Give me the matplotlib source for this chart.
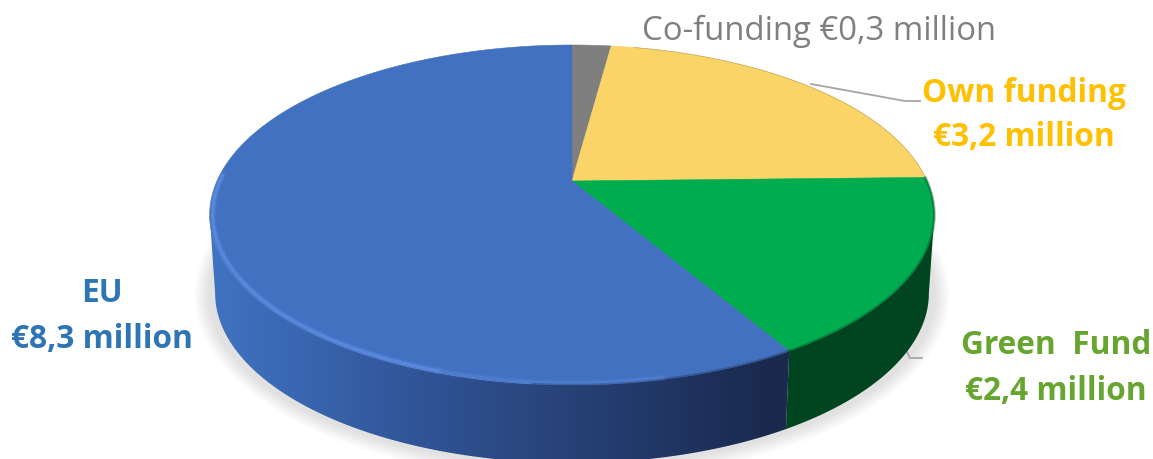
import numpy as np
import matplotlib
matplotlib.use("Agg")
import matplotlib.pyplot as plt
from matplotlib.patches import Polygon

# funding sources, clockwise from 12 o'clock
sources = ["Co-funding", "Own funding", "Green Fund", "EU"]
values = [0.3, 3.2, 2.4, 8.3]
top_colors = ["#7f7f7f", "#fad466", "#00ac4e", "#4271c1"]

W, H = 1153, 459
CX, CY = 572, 215      # centre of the top ellipse on screen
A, B, K = 355, 170, 0.2  # perspective of the tilted disc
DEPTH = 78


def project(angle, r=1.0, drop=0.0, shrink=1.0):
    # angle in radians clockwise from the top of the disc
    x = r * np.sin(angle)
    y = r * np.cos(angle)
    w = 1 + K * y
    sx = CX + shrink * A * x / w
    sy = CY - (B * y + B * K) / w + drop
    return np.array(sx), np.array(sy)


def mix(c1, c2, f):
    return tuple((1 - f) * a + f * b for a, b in zip(c1, c2))


def blue_wall(x):
    c0 = (0.25, 0.45, 0.76)
    c1 = (0.19, 0.33, 0.59)
    c2 = (0.105, 0.165, 0.31)
    if x < 420:
        return mix(c0, c1, max(0, (x - 215) / 205))
    return mix(c1, c2, min(1, (x - 420) / 340))


def wall_outline(a0, a1):
    t = np.linspace(a0, a1, 300)
    x0, y0 = project(t)
    x1, y1 = project(t[::-1], drop=DEPTH, shrink=0.985)
    return np.column_stack([np.r_[x0, x1], np.r_[y0, y1]])


fig = plt.figure(figsize=(W / 100, H / 100), dpi=100)
ax = fig.add_axes([0, 0, 1, 1])
ax.axis("off")

edges = np.cumsum([0] + values) / sum(values) * 2 * np.pi
around = np.linspace(0, 2 * np.pi, 361)
side = np.arccos(-K)   # angle of the widest point of the ellipse

# soft shadow below the disc
for i in range(10):
    grow = 15 - i * 1.5
    sx, sy = project(around, drop=DEPTH + 2, shrink=1 + grow / 355)
    sy = sy + (sy - (CY + DEPTH)) * grow / 170
    ax.add_patch(Polygon(np.column_stack([sx, sy]), closed=True,
                         fc="black", ec="none", alpha=0.012, zorder=1))

# side wall, green is flat and blue runs dark to the right
ax.add_patch(Polygon(wall_outline(side, edges[3]), closed=True,
                     fc="#00451f", ec="none", zorder=2))
blue_shape = Polygon(wall_outline(edges[3], 2 * np.pi - side), closed=True,
                     fc="none", ec="none", zorder=2, transform=ax.transData)
ax.add_patch(blue_shape)
gradient = np.array([[blue_wall(x) for x in range(W)]])
img = ax.imshow(gradient, extent=(0, W, H, 0), aspect="auto", zorder=2,
                interpolation="bilinear")
img.set_clip_path(blue_shape)

ax.set_xlim(0, W)
ax.set_ylim(H, 0)

# top face
apex = (CX, CY - B * K)
for start, end, col in zip(edges[:-1], edges[1:], top_colors):
    t = np.linspace(start, end, 200)
    sx, sy = project(t)
    pts = np.vstack([[apex], np.column_stack([sx, sy])])
    ax.add_patch(Polygon(pts, closed=True, fc=col, ec=col, lw=0.4, zorder=3))

# dark rim on the right, light bevel on the blue slice
t = np.linspace(edges[2], edges[3], 200)
sx, sy = project(t)
ax.plot(sx, sy, color="#00331a", lw=2.0, alpha=0.35, zorder=4)
t = np.linspace(edges[3], np.deg2rad(185), 100)
sx, sy = project(t)
ax.plot(sx, sy, color="#1c2d55", lw=2.0, alpha=0.4, zorder=4)
for lw, alpha in [(5, 0.12), (3.5, 0.2), (2, 0.4)]:
    t = np.linspace(np.deg2rad(198), np.deg2rad(272), 200)
    sx, sy = project(t, r=0.992)
    ax.plot(sx, sy, color="#6a9af0", lw=lw, alpha=alpha, zorder=4,
            solid_capstyle="round")
    t = np.linspace(np.deg2rad(168), np.deg2rad(198), 100)
    sx, sy = project(t, r=0.992)
    ax.plot(sx, sy, color="#6a9af0", lw=lw, alpha=alpha * 0.5, zorder=4)
t = np.linspace(np.deg2rad(12), np.deg2rad(88), 100)
sx, sy = project(t)
ax.plot(sx, sy, color="#8a7a45", lw=0.5, alpha=0.5, zorder=4)

# leader lines
ax.plot([811, 905, 920], [84, 101, 101], color="#a6a6a6", lw=1.3, zorder=5)
ax.plot([906, 910, 922], [350, 358, 358], color="#a6a6a6", lw=1.3, zorder=1.5)

# labels
font = "Open Sans"
size = 22.8
ax.text(819, 31, "Co-funding €0,3 million", color="#7f7f7f", fontsize=23.7,
        family=font, ha="center", va="center", zorder=6)
ax.text(1024, 93, "Own funding", color="#ffc000", fontsize=size, family=font,
        weight="bold", ha="center", va="center", zorder=6)
ax.text(1024, 138, "€3,2 million", color="#ffc000", fontsize=size, family=font,
        weight="bold", ha="center", va="center", zorder=6)
ax.text(1056, 345, "Green  Fund", color="#66a52f", fontsize=size, family=font,
        weight="bold", ha="center", va="center", zorder=6)
ax.text(1056, 391, "€2,4 million", color="#66a52f", fontsize=size, family=font,
        weight="bold", ha="center", va="center", zorder=6)
ax.text(102, 293, "EU", color="#2e75b6", fontsize=size, family=font,
        weight="bold", ha="center", va="center", zorder=6)
ax.text(102, 339, "€8,3 million", color="#2e75b6", fontsize=size, family=font,
        weight="bold", ha="center", va="center", zorder=6)

fig.savefig("out.png", dpi=100)
